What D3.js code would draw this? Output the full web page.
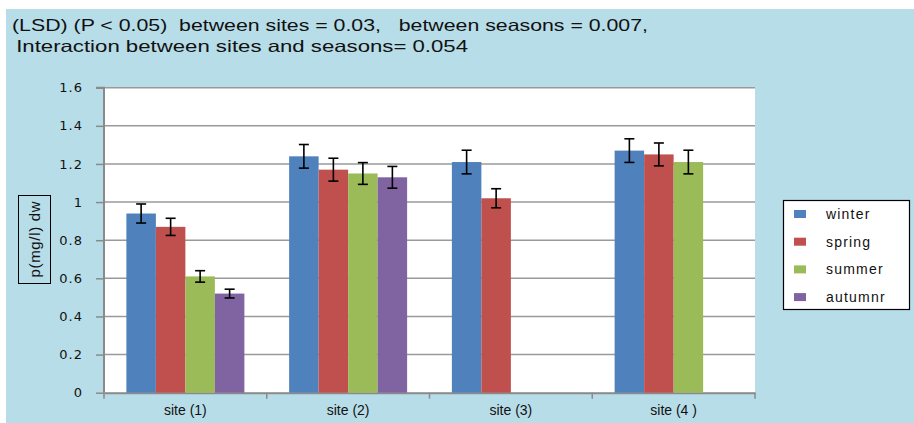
<!DOCTYPE html>
<html><head><meta charset="utf-8">
<script src="https://cdn.jsdelivr.net/npm/d3@7"></script>
<style>body{margin:0;background:#fff}svg{display:block}</style>
</head><body>
<svg id="c" width="914" height="423"></svg>
<script>
const sites = ["site (1)", "site (2)", "site (3)", "site (4 )"];
const seasons = ["winter", "spring", "summer", "autumnr"];
const winter = [0.94, 1.24, 1.21, 1.27];
const spring = [0.87, 1.17, 1.02, 1.25];
const summer = [0.61, 1.15, null, 1.21];
const autumnr = [0.52, 1.13, null, null];
const winterErr = [0.05, 0.062, 0.062, 0.062];
const springErr = [0.045, 0.06, 0.05, 0.06];
const summerErr = [0.03, 0.057, null, 0.062];
const autumnrErr = [0.023, 0.057, null, null];
const yTicks = [0, 0.2, 0.4, 0.6, 0.8, 1, 1.2, 1.4, 1.6];
const titleLines = ["(LSD) (P < 0.05)  between sites = 0.03,   between seasons = 0.007,",
                    " Interaction between sites and seasons= 0.054"];
const yLabel = "p(mg/l) dw";

const colors = {winter:"#4F81BD", spring:"#C0504D", summer:"#9BBB59", autumnr:"#8064A2"};
const values = {winter, spring, summer, autumnr};
const errs = {winter:winterErr, spring:springErr, summer:summerErr, autumnr:autumnrErr};

const svg = d3.select("#c");
svg.append("rect").attr("x",6).attr("y",9).attr("width",908).attr("height",414).attr("fill","#B7DDE8");

const L=104, R=755, T=87.7, B=392.7;
svg.append("rect").attr("x",L).attr("y",T).attr("width",R-L).attr("height",B-T).attr("fill","#fff");

const y = d3.scaleLinear().domain([0,1.6]).range([B,T]);
const x0 = d3.scaleBand().domain(sites).range([L,R]).paddingInner(0.275).paddingOuter(0.1375);
const x1 = d3.scaleBand().domain(seasons).range([0,x0.bandwidth()]).padding(0);

// gridlines
svg.append("g").selectAll("line").data(yTicks.filter(t=>t>0)).join("line")
  .attr("x1",L).attr("x2",R).attr("y1",d=>y(d)).attr("y2",d=>y(d))
  .attr("stroke","#9a9a9a").attr("stroke-width",1.5);

// y axis
const ya = svg.append("g").attr("transform",`translate(${L},0)`)
  .call(d3.axisLeft(y).tickValues(yTicks).tickFormat(d=>String(d)).tickSize(8).tickPadding(13));
ya.select(".domain").attr("stroke","#8a8a8a").attr("stroke-width",2).attr("d",`M-8,${T}H0V${B}`);
ya.selectAll(".tick line").attr("stroke","#8a8a8a").attr("stroke-width",1.5);
ya.selectAll(".tick text").attr("font-family","DejaVu Sans").attr("font-size",13).attr("letter-spacing",1).attr("fill","#111");

// x axis
const xa = svg.append("g").attr("transform",`translate(0,${B})`)
  .call(d3.axisBottom(x0).tickSize(0).tickPadding(12));
xa.select(".domain").attr("stroke","#8a8a8a").attr("stroke-width",2);
xa.selectAll(".tick text").attr("font-family","Liberation Sans").attr("font-size",14).attr("fill","#111");
const step = x0.step();
svg.append("g").selectAll("line").data(d3.range(sites.length+1)).join("line")
  .attr("x1",d=>L+d*step).attr("x2",d=>L+d*step).attr("y1",B).attr("y2",B+6)
  .attr("stroke","#8a8a8a").attr("stroke-width",1.5);

// bars
const items = [];
seasons.forEach(s=>sites.forEach((site,i)=>{
  if(values[s][i]!=null) items.push({s,site,v:values[s][i],e:errs[s][i]});
}));
svg.append("g").selectAll("rect").data(items).join("rect")
  .attr("x",d=>x0(d.site)+x1(d.s)).attr("width",x1.bandwidth())
  .attr("y",d=>y(d.v)).attr("height",d=>B-y(d.v)).attr("fill",d=>colors[d.s]);

// error bars
const eg = svg.append("g").attr("stroke","#000").attr("stroke-width",1.6);
items.forEach(d=>{
  const cx = x0(d.site)+x1(d.s)+x1.bandwidth()/2;
  eg.append("line").attr("x1",cx).attr("x2",cx).attr("y1",y(d.v+d.e)).attr("y2",y(d.v-d.e));
  eg.append("line").attr("x1",cx-5).attr("x2",cx+5).attr("y1",y(d.v+d.e)).attr("y2",y(d.v+d.e));
  eg.append("line").attr("x1",cx-5).attr("x2",cx+5).attr("y1",y(d.v-d.e)).attr("y2",y(d.v-d.e));
});

// title
svg.append("text").attr("x",12).attr("y",31).attr("font-family","Liberation Sans Narrow, Liberation Sans").attr("font-size",16.5)
  .attr("textLength",636).attr("lengthAdjust","spacingAndGlyphs").attr("fill","#111")
  .style("white-space","pre").text(titleLines[0]);
svg.append("text").attr("x",10).attr("y",52).attr("font-family","Liberation Sans Narrow, Liberation Sans").attr("font-size",16.5)
  .attr("textLength",458).attr("lengthAdjust","spacingAndGlyphs").attr("fill","#111")
  .style("white-space","pre").text(titleLines[1]);

// y label box
svg.append("rect").attr("x",18.5).attr("y",195.5).attr("width",32).attr("height",88)
  .attr("fill","none").attr("stroke","#000").attr("stroke-width",1);
svg.append("text").attr("transform","translate(40,239.5) rotate(-90)").attr("text-anchor","middle")
  .attr("font-family","Liberation Sans").attr("font-size",15).attr("textLength",76).attr("lengthAdjust","spacing")
  .attr("fill","#111").text(yLabel);

// legend
const lg = svg.append("g");
lg.append("rect").attr("x",783.5).attr("y",200.5).attr("width",126).attr("height",109)
  .attr("fill","#fff").attr("stroke","#000").attr("stroke-width",1.2);
seasons.forEach((s,i)=>{
  const cy = 214 + i*27.7;
  lg.append("rect").attr("x",794).attr("y",cy-4).attr("width",12).attr("height",8).attr("fill",colors[s]);
  lg.append("text").attr("x",826).attr("y",cy+5).attr("font-family","Liberation Sans").attr("font-size",14)
    .attr("letter-spacing",1.2).attr("fill","#111").text(s);
});
</script>
</body></html>
